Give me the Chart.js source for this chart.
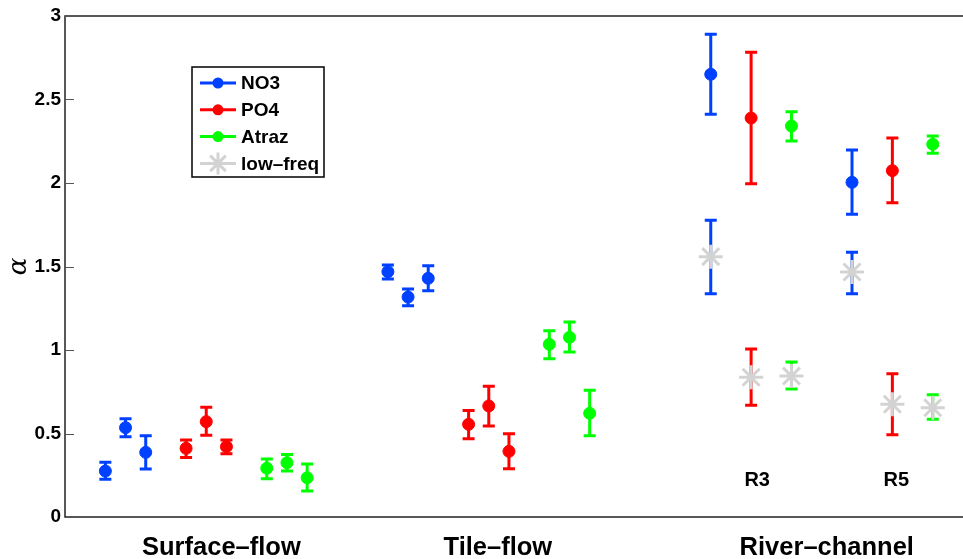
<!DOCTYPE html>
<html>
<head>
<meta charset="utf-8">
<script src="https://cdn.jsdelivr.net/npm/chart.js@4.4.1/dist/chart.umd.min.js"></script>
<style>
  html, body { margin: 0; padding: 0; background: #fff; }
  #wrap { width: 963px; height: 559px; position: relative; }
</style>
</head>
<body>
<div id="wrap"><canvas id="chart"></canvas></div>
<script>
// groups along the x axis (x values are slot numbers)
const groups = ['Surface–flow', 'Tile–flow', 'River–channel'];
const groupPos = [7.75, 21.45, 37.75];

const no3X = [2, 3, 4, 16, 17, 18, 32, 39];
const no3Y = [0.275, 0.535, 0.387, 1.469, 1.317, 1.429, 2.651, 2.004];
const no3Lo = [0.226, 0.481, 0.287, 1.425, 1.265, 1.355, 2.411, 1.813];
const no3Hi = [0.328, 0.589, 0.487, 1.509, 1.365, 1.505, 2.890, 2.198];

const po4X = [6, 7, 8, 20, 21, 22, 34, 41];
const po4Y = [0.411, 0.571, 0.421, 0.555, 0.665, 0.393, 2.389, 2.074];
const po4Lo = [0.357, 0.489, 0.379, 0.469, 0.545, 0.289, 1.996, 1.882];
const po4Hi = [0.461, 0.657, 0.461, 0.637, 0.783, 0.499, 2.783, 2.269];

const atrazX = [10, 11, 12, 24, 25, 26, 36, 43];
const atrazY = [0.292, 0.325, 0.235, 1.034, 1.076, 0.621, 2.341, 2.232];
const atrazLo = [0.229, 0.275, 0.156, 0.948, 0.988, 0.487, 2.251, 2.178];
const atrazHi = [0.347, 0.375, 0.317, 1.116, 1.168, 0.759, 2.427, 2.281];

// low-frequency estimates (river sites only); error bars keep the parent colour
const lowX = [32, 39, 34, 41, 36, 43];
const lowOf = ['NO3', 'NO3', 'PO4', 'PO4', 'Atraz', 'Atraz'];
const lowY = [1.559, 1.467, 0.837, 0.675, 0.844, 0.654];
const lowLo = [1.337, 1.337, 0.669, 0.493, 0.766, 0.585];
const lowHi = [1.777, 1.585, 1.006, 0.858, 0.928, 0.732];

const siteText = ['R3', 'R5'];
const siteX = [34.3, 41.2];
const siteY = [0.22, 0.22];

const yTicks = [0, 0.5, 1, 1.5, 2, 2.5, 3];

const colors = { NO3: '#0040ff', PO4: '#ff0000', Atraz: '#00ff00', low: '#d3d3d3' };
const FONT = '"Liberation Sans", Arial, Helvetica, sans-serif';

const pts = (xs, ys, lo, hi) => xs.map((x, i) => ({ x: x, y: ys[i], lo: lo[i], hi: hi[i] }));

function dotSet(label, xs, ys, lo, hi) {
  return {
    label: label,
    data: pts(xs, ys, lo, hi),
    pointStyle: 'circle',
    pointRadius: 6,
    pointBorderWidth: 1,
    backgroundColor: colors[label],
    borderColor: colors[label],
    errColor: colors[label],
    showLine: false
  };
}

// error bars, drawn under the markers
const errorBars = {
  id: 'errorBars',
  beforeDatasetsDraw(chart) {
    const { ctx, scales: { x, y } } = chart;
    ctx.save();
    ctx.lineWidth = 3;
    ctx.lineCap = 'butt';
    chart.data.datasets.forEach(ds => {
      ds.data.forEach((p, j) => {
        const px = x.getPixelForValue(p.x);
        const top = y.getPixelForValue(p.hi);
        const bot = y.getPixelForValue(p.lo);
        ctx.strokeStyle = Array.isArray(ds.errColor) ? ds.errColor[j] : ds.errColor;
        ctx.beginPath();
        ctx.moveTo(px, top); ctx.lineTo(px, bot);
        ctx.moveTo(px - 6, top); ctx.lineTo(px + 6, top);
        ctx.moveTo(px - 6, bot); ctx.lineTo(px + 6, bot);
        ctx.stroke();
      });
    });
    ctx.restore();
  }
};

// axes box, inward ticks, site labels and the legend box
const decor = {
  id: 'decor',
  afterDraw(chart) {
    const { ctx, chartArea: a, scales: { x, y } } = chart;
    const right = chart.width;
    ctx.save();
    ctx.strokeStyle = '#222';
    ctx.lineWidth = 1.5;
    ctx.beginPath();
    ctx.moveTo(right, a.top); ctx.lineTo(a.left, a.top);
    ctx.lineTo(a.left, a.bottom); ctx.lineTo(right, a.bottom);
    ctx.stroke();

    ctx.strokeStyle = '#555';
    ctx.lineWidth = 1;
    yTicks.forEach(v => {
      const py = Math.round(y.getPixelForValue(v)) + 0.5;
      ctx.beginPath();
      ctx.moveTo(a.left, py); ctx.lineTo(a.left + 9, py);
      ctx.stroke();
    });

    ctx.fillStyle = '#000';
    ctx.font = 'bold 20px ' + FONT;
    ctx.textAlign = 'center';
    ctx.textBaseline = 'middle';
    siteText.forEach((t, i) => {
      ctx.fillText(t, x.getPixelForValue(siteX[i]), y.getPixelForValue(siteY[i]));
    });

    // legend
    const bx = 192, by = 67, bw = 132, bh = 110;
    ctx.fillStyle = '#fff';
    ctx.fillRect(bx, by, bw, bh);
    ctx.strokeStyle = '#000';
    ctx.lineWidth = 1.5;
    ctx.strokeRect(bx, by, bw, bh);
    const items = [
      { name: 'NO3', color: colors.NO3, star: false },
      { name: 'PO4', color: colors.PO4, star: false },
      { name: 'Atraz', color: colors.Atraz, star: false },
      { name: 'low–freq', color: colors.low, star: true }
    ];
    ctx.font = 'bold 19px ' + FONT;
    ctx.textAlign = 'left';
    items.forEach((it, i) => {
      const ry = 83 + i * 26.8;
      ctx.strokeStyle = it.color;
      ctx.fillStyle = it.color;
      ctx.lineWidth = 3;
      ctx.beginPath();
      ctx.moveTo(200, ry); ctx.lineTo(236, ry);
      ctx.stroke();
      if (it.star) {
        const r = 11;
        ctx.beginPath();
        for (let k = 0; k < 4; k++) {
          const ang = k * Math.PI / 4;
          ctx.moveTo(218 - r * Math.cos(ang), ry - r * Math.sin(ang));
          ctx.lineTo(218 + r * Math.cos(ang), ry + r * Math.sin(ang));
        }
        ctx.stroke();
      } else {
        ctx.beginPath();
        ctx.arc(218, ry, 5.5, 0, Math.PI * 2);
        ctx.fill();
      }
      ctx.fillStyle = '#000';
      ctx.fillText(it.name, 241, ry + 1);
    });
    ctx.restore();
  }
};

new Chart(document.getElementById('chart'), {
  type: 'scatter',
  data: {
    datasets: [
      dotSet('NO3', no3X, no3Y, no3Lo, no3Hi),
      dotSet('PO4', po4X, po4Y, po4Lo, po4Hi),
      dotSet('Atraz', atrazX, atrazY, atrazLo, atrazHi),
      {
        label: 'low-freq',
        data: pts(lowX, lowY, lowLo, lowHi),
        pointStyle: 'star',
        pointRadius: 12,
        pointBorderWidth: 3,
        borderColor: colors.low,
        backgroundColor: colors.low,
        errColor: lowOf.map(k => colors[k]),
        showLine: false
      }
    ]
  },
  options: {
    responsive: true,
    maintainAspectRatio: false,
    animation: false,
    layout: { autoPadding: false, padding: { top: 16, right: 0, bottom: 0, left: 0 } },
    plugins: {
      legend: { display: false },
      tooltip: { enabled: false }
    },
    scales: {
      x: {
        type: 'linear',
        min: 0,
        max: 44.5,
        grid: { display: false, drawTicks: false },
        border: { display: false },
        afterBuildTicks: s => { s.ticks = groupPos.map(v => ({ value: v })); },
        afterFit: s => { s.height = 42; s.paddingLeft = 0; s.paddingRight = 0; },
        ticks: {
          padding: 16,
          autoSkip: false,
          maxRotation: 0,
          color: '#000',
          font: { family: FONT, size: 25.5, weight: 'bold' },
          callback: v => groups[groupPos.indexOf(v)]
        }
      },
      y: {
        min: 0,
        max: 3,
        grid: { display: false, drawTicks: false },
        border: { display: false },
        afterBuildTicks: s => { s.ticks = yTicks.map(v => ({ value: v })); },
        afterFit: s => { s.width = 65; },
        ticks: {
          padding: 4,
          color: '#000',
          font: { family: FONT, size: 19, weight: 'bold' },
          callback: v => String(v)
        },
        title: {
          display: true,
          text: 'α',
          color: '#000',
          padding: { top: 4, bottom: 0 },
          font: { family: '"DejaVu Serif", serif', size: 26, style: 'italic' }
        }
      }
    }
  },
  plugins: [errorBars, decor]
});
</script>
</body>
</html>
